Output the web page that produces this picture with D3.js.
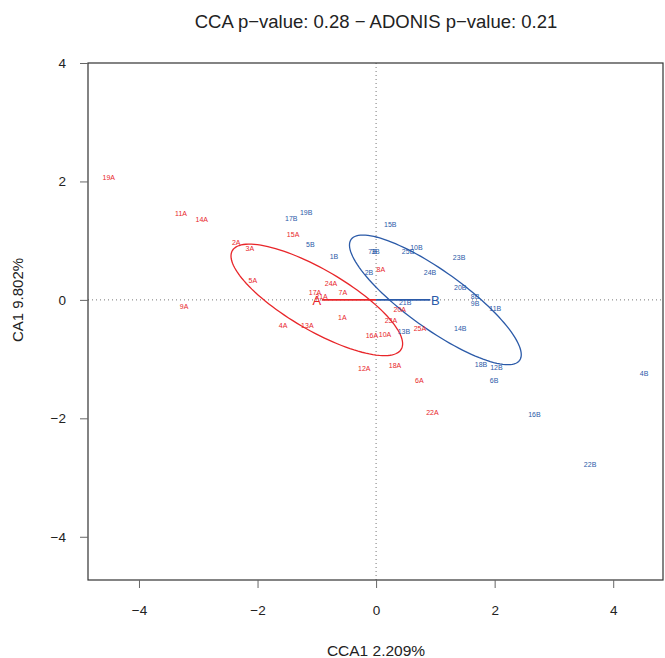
<!DOCTYPE html>
<html>
<head>
<meta charset="utf-8">
<script src="https://cdn.jsdelivr.net/npm/d3@7"></script>
<style>
  body { margin: 0; background: #fff; }
  svg { font-family: "Liberation Sans", Arial, sans-serif; }
</style>
</head>
<body>
<div id="chart"></div>
<script>
// dati
const sitesA = ["19A","11A","14A","2A","3A","15A","5A","9A","24A","17A","21A","7A","4A","13A","1A","16A","10A","8A","20A","23A","25A","18A","12A","6A","22A"];
const cca1A  = [-4.51,-3.29,-2.94,-2.36,-2.13,-1.40,-2.08,-3.24,-0.76,-1.03,-0.92,-0.56,-1.57,-1.16,-0.57,-0.07,0.15,0.08,0.40,0.25,0.74,0.32,-0.20,0.73,0.95];
const ca1A   = [2.06,1.45,1.35,0.96,0.86,1.10,0.32,-0.12,0.27,0.12,0.05,0.12,-0.44,-0.44,-0.30,-0.61,-0.59,0.51,-0.16,-0.35,-0.49,-1.11,-1.16,-1.37,-1.91];

const sitesB = ["19B","17B","5B","1B","15B","7B","3B","25B","10B","2B","23B","24B","20B","8B","9B","11B","21B","13B","14B","18B","12B","6B","16B","4B","22B"];
const cca1B  = [-1.18,-1.43,-1.11,-0.71,0.24,-0.06,-0.01,0.54,0.68,-0.12,1.40,0.91,1.42,1.67,1.67,2.01,0.49,0.47,1.42,1.77,2.03,1.99,2.67,4.52,3.61];
const ca1B   = [1.47,1.37,0.93,0.74,1.27,0.82,0.82,0.82,0.88,0.47,0.71,0.47,0.20,0.05,-0.07,-0.15,-0.05,-0.54,-0.49,-1.10,-1.15,-1.37,-1.94,-1.25,-2.78];

// centroidi ed ellissi (centro, semiassi, angolo in gradi)
const groups    = ["A", "B"];
const centroidX = [-1.0, 1.0];
const centroidY = [0, 0];
const ellA      = [1.65, 1.75];
const ellB      = [0.51, 0.485];
const ellAngle  = [-30.3, -35.7];

const xTicks = [-4, -2, 0, 2, 4];
const yTicks = [-4, -2, 0, 2, 4];

const title  = "CCA p\u2212value: 0.28 \u2212 ADONIS p\u2212value: 0.21";
const xLabel = "CCA1 2.209%";
const yLabel = "CA1 9.802%";

// impostazioni
const width = 665, height = 658;
const plotLeft = 88, plotRight = 663, plotTop = 63, plotBottom = 580;
const colors = ["#e8262a", "#2b5aa8"];

const svg = d3.select("#chart").append("svg")
    .attr("width", width)
    .attr("height", height);

const x = d3.scaleLinear().domain([-4.86, 4.84]).range([plotLeft, plotRight]);
const y = d3.scaleLinear().domain([-4.73, 4.0]).range([plotBottom, plotTop]);

// linee di riferimento
svg.append("line")
    .attr("x1", plotLeft).attr("x2", plotRight)
    .attr("y1", y(0)).attr("y2", y(0))
    .attr("stroke", "#777").attr("stroke-dasharray", "1,3");
svg.append("line")
    .attr("x1", x(0)).attr("x2", x(0))
    .attr("y1", plotTop).attr("y2", plotBottom)
    .attr("stroke", "#777").attr("stroke-dasharray", "1,3");

// ellissi
const ellLine = d3.line().x(d => x(d[0])).y(d => y(d[1]));
groups.forEach((g, i) => {
    const th = ellAngle[i] * Math.PI / 180;
    const pts = d3.range(0, 361, 3).map(t => {
        const r = t * Math.PI / 180;
        const ex = ellA[i] * Math.cos(r), ey = ellB[i] * Math.sin(r);
        return [centroidX[i] + ex * Math.cos(th) - ey * Math.sin(th),
                centroidY[i] + ex * Math.sin(th) + ey * Math.cos(th)];
    });
    svg.append("path")
        .attr("d", ellLine(pts))
        .attr("fill", "none")
        .attr("stroke", colors[i])
        .attr("stroke-width", 1.3);
});

// etichette dei campioni
function drawSites(names, xs, ys, color) {
    svg.append("g").selectAll("text")
        .data(names)
        .join("text")
        .attr("x", (d, i) => x(xs[i]))
        .attr("y", (d, i) => y(ys[i]))
        .attr("dy", "0.35em")
        .attr("text-anchor", "middle")
        .attr("font-size", "7px")
        .attr("fill", color)
        .text(d => d);
}
drawSites(sitesA, cca1A, ca1A, colors[0]);
drawSites(sitesB, cca1B, ca1B, colors[1]);

// frecce verso i centroidi
groups.forEach((g, i) => {
    const dir = Math.sign(centroidX[i]);
    svg.append("line")
        .attr("x1", x(0)).attr("y1", y(0))
        .attr("x2", x(centroidX[i]) - dir * 5).attr("y2", y(centroidY[i]))
        .attr("stroke", colors[i])
        .attr("stroke-width", 1.8);
    svg.append("text")
        .attr("x", x(centroidX[i]))
        .attr("y", y(centroidY[i]))
        .attr("dy", "0.36em")
        .attr("text-anchor", "middle")
        .attr("font-size", "13px")
        .attr("fill", colors[i])
        .text(g);
});

// cornice
svg.append("rect")
    .attr("x", plotLeft).attr("y", plotTop)
    .attr("width", plotRight - plotLeft).attr("height", plotBottom - plotTop)
    .attr("fill", "none").attr("stroke", "#333").attr("stroke-width", 1.2);

// assi
const fmt = d => d < 0 ? "\u2212" + Math.abs(d) : d;
const xAxis = svg.append("g")
    .attr("transform", `translate(0,${plotBottom})`)
    .call(d3.axisBottom(x).tickValues(xTicks).tickSize(8).tickPadding(17).tickFormat(fmt));
const yAxis = svg.append("g")
    .attr("transform", `translate(${plotLeft},0)`)
    .call(d3.axisLeft(y).tickValues(yTicks).tickSize(8).tickPadding(14).tickFormat(fmt));
[xAxis, yAxis].forEach(a => {
    a.select(".domain").remove();
    a.selectAll(".tick line").attr("stroke", "#666");
    a.selectAll(".tick text")
        .attr("font-size", "13.5px")
        .attr("font-family", "Liberation Sans, Arial, sans-serif")
        .attr("fill", "#222");
});

// titolo e etichette degli assi
svg.append("text")
    .attr("x", 376).attr("y", 28)
    .attr("text-anchor", "middle")
    .attr("font-size", "18.5px")
    .attr("fill", "#222")
    .text(title);
svg.append("text")
    .attr("x", 376).attr("y", 656)
    .attr("text-anchor", "middle")
    .attr("font-size", "15.5px")
    .attr("fill", "#222")
    .text(xLabel);
svg.append("text")
    .attr("transform", "translate(23,300) rotate(-90)")
    .attr("text-anchor", "middle")
    .attr("font-size", "15px")
    .attr("fill", "#222")
    .text(yLabel);
</script>
</body>
</html>
